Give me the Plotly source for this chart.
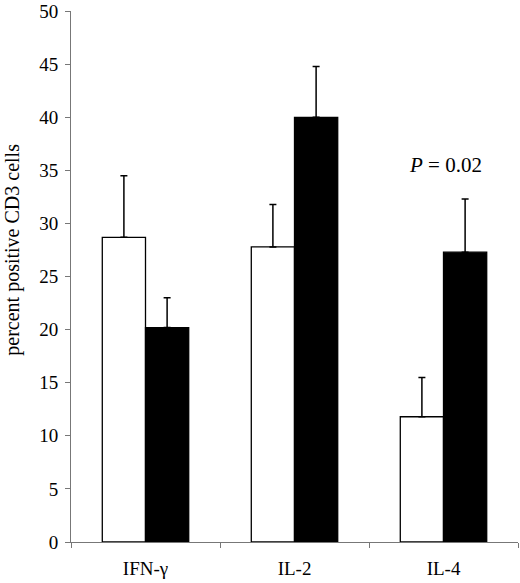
import plotly.graph_objects as go

# data
categories = ["IFN-γ", "IL-2", "IL-4"]
open_vals = [28.7, 27.8, 11.8]
open_err = [5.8, 4.0, 3.7]
filled_vals = [20.2, 40.0, 27.3]
filled_err = [2.8, 4.8, 5.0]
y_ticks = list(range(0, 55, 5))

serif = "Liberation Serif, Times New Roman, serif"

fig = go.Figure()
fig.add_trace(go.Bar(
    x=categories, y=open_vals,
    marker=dict(color="white", line=dict(color="black", width=1.3)),
    error_y=dict(type="data", array=open_err, arrayminus=[0, 0, 0],
                 symmetric=False, color="black", thickness=1.5, width=3.5),
    showlegend=False,
))
fig.add_trace(go.Bar(
    x=categories, y=filled_vals,
    marker=dict(color="black", line=dict(color="black", width=1.3)),
    error_y=dict(type="data", array=filled_err, arrayminus=[0, 0, 0],
                 symmetric=False, color="black", thickness=1.5, width=3.5),
    showlegend=False,
))

fig.add_annotation(x=2, y=35.55, xshift=2, text="<i>P</i> = 0.02", showarrow=False,
                   font=dict(family=serif, size=21, color="black"))

# y axis title placed by hand
fig.add_annotation(xref="paper", yref="paper", x=-58 / 445, y=0.55,
                   xanchor="center", yanchor="middle",
                   text="percent positive CD3 cells", textangle=-90,
                   showarrow=False, font=dict(family=serif, size=20, color="black"))

fig.update_layout(
    width=520, height=583,
    margin=dict(l=71, r=2, t=11, b=41),
    barmode="group", bargap=0.42, bargroupgap=0,
    plot_bgcolor="white", paper_bgcolor="white",
    font=dict(family=serif, size=19, color="black"),
)
fig.update_xaxes(
    automargin=False,
    showline=True, linecolor="#777", linewidth=1,
    ticks="outside", tickson="boundaries", ticklen=5, tickcolor="#777",
    tickfont=dict(size=19), ticklabelstandoff=9, showgrid=False,
)
fig.update_yaxes(
    automargin=False, ticklabeloverflow="allow",
    range=[0, 50.02], tickvals=y_ticks, ticklabelstandoff=3,
    showline=True, linecolor="#777", linewidth=1,
    ticks="outside", ticklen=5, tickcolor="#777", showgrid=False, zeroline=False,
)

fig.write_html("out.html", config={"displayModeBar": False},
               post_script="document.body.style.margin='0';")
